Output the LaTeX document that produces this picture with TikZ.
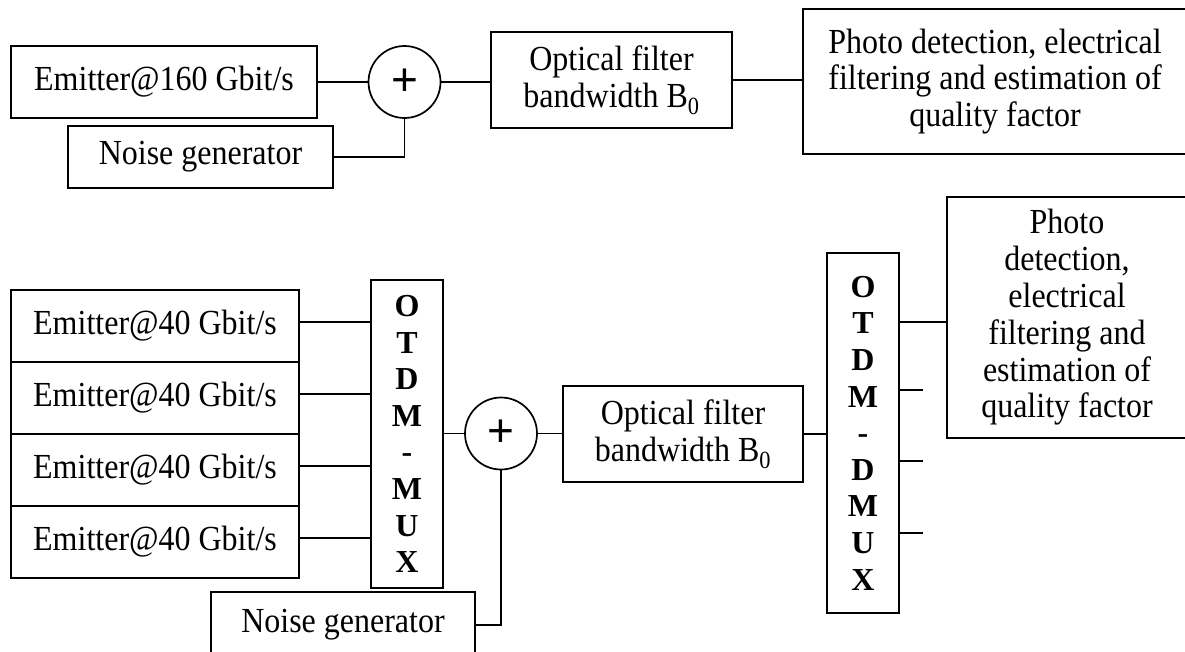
\documentclass[tikz,border=0pt]{standalone}
\usepackage{graphicx}
\usepackage{fontspec}
\setmainfont{Liberation Serif}
\newfontfamily\plusfont{Liberation Sans}
\newcommand\tl[1]{\scalebox{1}[1.1]{#1}}
\begin{document}
\begin{tikzpicture}[x=1pt,y=-1pt,
  box/.style={draw,line width=1.7pt,inner sep=0pt,align=center,font=\fontsize{32}{36.8}\selectfont},
  muxbox/.style={draw,line width=1.7pt,inner sep=0pt,align=center,font=\bfseries\fontsize{32}{36.6}\selectfont},
  sumnode/.style={draw,circle,line width=1.7pt,minimum size=72pt,inner sep=0pt,font=\plusfont\fontsize{46}{46}\selectfont},
  wire/.style={line width=1.7pt}]
\useasboundingbox (0,0) rectangle (1185,651);
\clip (0,0) rectangle (1185,651);

% ---- top chain ----
\node[box,minimum width=306pt,minimum height=72pt] (e160) at (164,82) {\tl{Emitter@160 Gbit/s}};
\node[sumnode] (c1) at (404.5,82) {+};
\node[box,minimum width=265pt,minimum height=62pt] (n1) at (200.5,157) {\tl{Noise generator}};
\node[box,minimum width=241pt,minimum height=96pt] (f1) at (611.5,80) {\tl{Optical filter}\\\tl{bandwidth B\textsubscript{0}}};
\node[box,minimum width=384pt,minimum height=145pt] (p1) at (995,81.5) {\tl{Photo detection, electrical}\\\tl{filtering and estimation of}\\\tl{quality factor}};

\draw[wire] (e160.east) -- (c1.west);
\draw[wire] (n1.east) -| (c1.south);
\draw[wire] (c1.east) -- (c1.east -| f1.west);
\draw[wire] (f1.east) -- (f1.east -| p1.west);

% ---- bottom chain ----
\foreach \i/\y in {1/326,2/398,3/470,4/542}
  \node[box,minimum width=288pt,minimum height=72pt] (em\i) at (155,\y) {\tl{Emitter@40 Gbit/s}};
\node[muxbox,minimum width=72pt,minimum height=308pt] (mux) at (407,434) {O\\T\\D\\M\\-\\M\\U\\X};
\foreach \i in {1,...,4}
  \draw[wire] ([yshift=4pt]em\i.east) -- ([yshift=4pt]em\i.east -| mux.west);

\node[sumnode] (c2) at (501,433.5) {+};
\draw[wire] (mux.east |- c2.west) -- (c2.west);
\node[box,minimum width=264pt,minimum height=66pt] (n2) at (343,625) {\tl{Noise generator}};
\draw[wire] (n2.east) -| (c2.south);

\node[box,minimum width=240pt,minimum height=96pt] (f2) at (683,434) {\tl{Optical filter}\\\tl{bandwidth B\textsubscript{0}}};
\draw[wire] (c2.east) -- (c2.east -| f2.west);

\node[muxbox,minimum width=72pt,minimum height=360pt] (dmux) at (863,433) {O\\T\\D\\M\\-\\D\\M\\U\\X};
\draw[wire] (f2.east) -- (f2.east -| dmux.west);

\node[box,minimum width=240pt,minimum height=241pt] (p2) at (1067,317.5) {\tl{Photo}\\\tl{detection,}\\\tl{electrical}\\\tl{filtering and}\\\tl{estimation of}\\\tl{quality factor}};
\draw[wire] ([yshift=-4.5pt]p2.west -| dmux.east) -- ([yshift=-4.5pt]p2.west);

\coordinate (s1) at (923,390);
\coordinate (s2) at (923,461);
\coordinate (s3) at (923,533);
\foreach \s in {s1,s2,s3}
  \draw[wire] (dmux.east |- \s) -- (\s);
\end{tikzpicture}
\end{document}
